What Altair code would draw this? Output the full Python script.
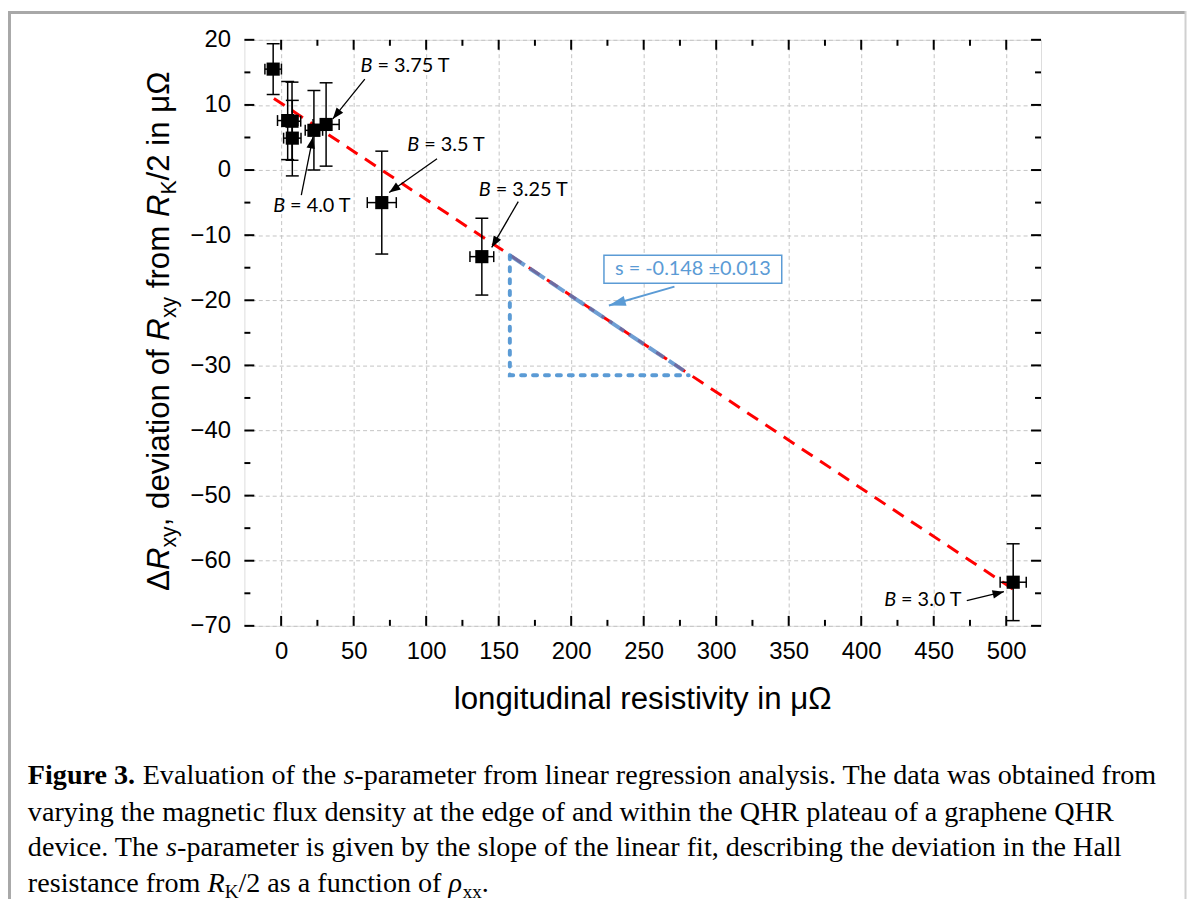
import math
import altair as alt
import pandas as pd

# ---------------- data ----------------
rho_xx  = [-5.5, 4.5, 7.5, 7.7, 22.6, 31.0, 69.4, 138.4, 504.8]     # longitudinal resistivity (µΩ)
d_rxy   = [15.5, 7.6, 7.5, 4.9, 6.1, 7.0, -5.0, -13.3, -63.3]        # ΔRxy (µΩ)
rho_err = [5.7, 7.0, 6.0, 6.0, 6.0, 9.0, 10.0, 8.2, 9.0]
rxy_err = [3.9, 6.0, 6.0, 5.8, 6.1, 6.4, 7.9, 5.9, 5.9]

fit_x = [-5.0, 505.0]
fit_y = [11.0, -64.4]

tri_x = [157.7, 157.7, 281.0]
tri_y = [-13.1, -31.5, -31.5]
hyp_x = [157.7, 281.0]
hyp_y = [-13.1, -31.3]

slope_text = "s = -0.148 ±0.013"
box_x = [222.6, 345.2]
box_y = [-13.1, -17.4]
blue_arrow_x = [271.2, 226.0]
blue_arrow_y = [-17.9, -20.8]

field_labels = ["= 3.75 T", "= 4.0 T", "= 3.5 T", "= 3.25 T", "= 3.0 T"]
label_x = [54.8, -5.5, 87.0, 136.3, 415.8]
label_y = [16.0, -5.5, 3.8, -3.0, -66.1]
arrow_x1 = [57.7, 13.9, 107.5, 163.5, 472.8]
arrow_y1 = [13.95, -3.84, 1.74, -4.86, -66.13]
arrow_x2 = [35.6, 21.9, 74.5, 145.2, 498.4]
arrow_y2 = [7.85, 5.05, -3.44, -11.88, -64.76]

x_major = [0, 50, 100, 150, 200, 250, 300, 350, 400, 450, 500]
x_minor = [25, 75, 125, 175, 225, 275, 325, 375, 425, 475]
y_major = [-70, -60, -50, -40, -30, -20, -10, 0, 10, 20]
y_minor = [-65, -55, -45, -35, -25, -15, -5, 5, 15]

x_title = "longitudinal resistivity in μΩ"
y_title_parts = [("Δ", "r"), ("R", "i"), ("xy", "sub"), (", deviation of ", "r"), ("R", "i"),
                 ("xy", "sub"), (" from ", "r"), ("R", "i"), ("K", "sub"), ("/2 in μΩ", "r")]
caption_lines = [
    [("Figure 3.", "b"), (" Evaluation of the ", "r"), ("s", "i"),
     ("-parameter from linear regression analysis. The data was obtained from", "r")],
    [("varying the magnetic flux density at the edge of and within the QHR plateau of a graphene QHR", "r")],
    [("device. The ", "r"), ("s", "i"),
     ("-parameter is given by the slope of the linear fit, describing the deviation in the Hall", "r")],
    [("resistance from ", "r"), ("R", "i"), ("K", "sub"), ("/2 as a function of ", "r"),
     ("ρ", "i"), ("xx", "sub"), (".", "r")],
]

# ---------------- layout ----------------
W, H = 802, 590
XD = [-25.34, 523.97]
YD = [-70, 20]
pxx = W / (XD[1] - XD[0])
pxy = H / (YD[1] - YD[0])
BLUE = "#5b9bd5"

# approximate advance widths (em) for Arial-metric and Times-metric fonts
ARIAL = {'Δ': .668, 'R': .722, 'x': .5, 'y': .5, ',': .278, ' ': .278, 'd': .556, 'e': .556, 'v': .5,
         'i': .222, 'a': .556, 't': .278, 'o': .556, 'n': .556, 'f': .278, 'r': .333, 'm': .833,
         'K': .667, '/': .278, '2': .556, 'μ': .576, 'Ω': .768, 'l': .222, 'g': .556, 'u': .556, 's': .5}
TIMES = {' ': .25, ',': .25, '-': .333, '.': .25, '/': .278, ';': .278, ':': .278, '=': .564,
         'A': .722, 'B': .667, 'C': .667, 'D': .722, 'E': .611, 'F': .556, 'G': .722, 'H': .722,
         'I': .333, 'J': .389, 'K': .722, 'L': .611, 'M': .889, 'N': .722, 'O': .722, 'P': .556,
         'Q': .722, 'R': .667, 'S': .556, 'T': .611, 'U': .722, 'V': .722, 'W': .944, 'X': .722,
         'Y': .722, 'Z': .611, 'a': .444, 'b': .5, 'c': .444, 'd': .5, 'e': .444, 'f': .333, 'g': .5,
         'h': .5, 'i': .278, 'j': .278, 'k': .5, 'l': .278, 'm': .778, 'n': .5, 'o': .5, 'p': .5,
         'q': .5, 'r': .333, 's': .389, 't': .278, 'u': .5, 'v': .5, 'w': .722, 'x': .5, 'y': .5,
         'z': .444}
for _d in "0123456789":
    TIMES[_d] = .5
TIMES_B = {'F': .611, 'i': .278, 'g': .5, 'u': .556, 'r': .444, 'e': .444, ' ': .25, '3': .5, '.': .25}
TIMES_I = {'s': .389, 'R': .611, 'ρ': .5}
SUB = 0.68


def width_em(text, table):
    return sum(table.get(c, 0.5) for c in text)


def piece_w(text, style, tables):
    reg, bold, ital = tables
    if style == "b":
        return width_em(text, bold)
    if style == "i":
        return width_em(text, ital)
    if style == "sub":
        return width_em(text, reg) * SUB
    return width_em(text, reg)


one = pd.DataFrame({"k": [0]})


def text_piece(txt, x, y, size, font, style="r", angle=0, baseline="alphabetic", align="left", color="black"):
    kw = dict(font=font, fontSize=size, align=align, baseline=baseline, color=color)
    if style == "b":
        kw["fontWeight"] = "bold"
    if style == "i":
        kw["fontStyle"] = "italic"
    if angle:
        kw["angle"] = angle
    return alt.Chart(one).mark_text(**kw).encode(
        x=alt.value(x), y=alt.value(y), text=alt.value(txt))


xs = alt.Scale(domain=XD, nice=False, zero=False)
ys = alt.Scale(domain=YD, nice=False, zero=False)
common_axis = dict(grid=True, gridDash=[4, 3], gridColor="#c4c4c4", gridWidth=1, domain=False,
                   ticks=False, labelFont="Liberation Sans", labelFontSize=24, labelColor="black",
                   labelPadding=14, title=None, labelFlush=False, labelOverlap=False)
xaxis = alt.Axis(values=x_major, **common_axis)
yaxis = alt.Axis(values=y_major, **common_axis)


def X(f):
    return alt.X(f, type="quantitative", scale=xs, axis=xaxis)


def Y(f):
    return alt.Y(f, type="quantitative", scale=ys, axis=yaxis)


df = pd.DataFrame({"x": rho_xx, "y": d_rxy, "xe": rho_err, "ye": rxy_err})
df["xlo"] = df.x - df.xe
df["xhi"] = df.x + df.xe
df["ylo"] = df.y - df.ye
df["yhi"] = df.y + df.ye

layers = []

# fit line
layers.append(alt.Chart(pd.DataFrame({"x": fit_x, "y": fit_y})).mark_line(
    color="#ff0000", strokeWidth=3, strokeDash=[13, 9]).encode(x=X("x"), y=Y("y")))
# slope triangle
layers.append(alt.Chart(pd.DataFrame({"x": tri_x, "y": tri_y, "i": [0, 1, 2]})).mark_line(
    color=BLUE, strokeWidth=4, strokeDash=[4, 8], strokeCap="round").encode(
    x=X("x"), y=Y("y"), order="i:Q"))
layers.append(alt.Chart(pd.DataFrame({"x": hyp_x, "y": hyp_y})).mark_line(
    color="#4a86c8", strokeWidth=4, strokeDash=[18, 6], opacity=0.8).encode(x=X("x"), y=Y("y")))

# error bars
eb = alt.Chart(df)
layers.append(eb.mark_rule(color="black", strokeWidth=1.5).encode(x=X("x"), y=Y("ylo"), y2="yhi"))
layers.append(eb.mark_rule(color="black", strokeWidth=1.5).encode(y=Y("y"), x=X("xlo"), x2="xhi"))
for f in ["ylo", "yhi"]:
    layers.append(eb.mark_tick(orient="horizontal", size=13, thickness=1.5, color="black",
                               opacity=1).encode(x=X("x"), y=Y(f)))
for f in ["xlo", "xhi"]:
    layers.append(eb.mark_tick(orient="vertical", size=11, thickness=1.5, color="black",
                               opacity=1).encode(x=X(f), y=Y("y")))
# data squares
layers.append(eb.mark_square(size=175, color="black", opacity=1, filled=True).encode(x=X("x"), y=Y("y")))


def head_angle(x1, y1, x2, y2):
    dxp = (x2 - x1) * pxx
    dyp = -(y2 - y1) * pxy
    return math.degrees(math.atan2(dxp, -dyp)) % 360


adf = pd.DataFrame({"x1": arrow_x1, "y1": arrow_y1, "x2": arrow_x2, "y2": arrow_y2})
adf["ang"] = [head_angle(a, b, c, d) for a, b, c, d in zip(arrow_x1, arrow_y1, arrow_x2, arrow_y2)]
layers.append(alt.Chart(adf).mark_rule(color="black", strokeWidth=1.3).encode(
    x=X("x1"), y=Y("y1"), x2="x2", y2="y2"))
layers.append(alt.Chart(adf).mark_point(shape="M0,0L0.75,2L-0.75,2Z", filled=True, size=130,
                                        color="black", opacity=1, strokeWidth=0).encode(
    x=X("x2"), y=Y("y2"), angle=alt.Angle("ang:Q", scale=None)))

ldf = pd.DataFrame({"x": label_x, "y": label_y, "t": field_labels})
layers.append(alt.Chart(ldf).mark_text(font="Lato", fontSize=20, fontStyle="italic", align="left",
                                       baseline="middle", color="black").encode(
    x=X("x"), y=Y("y"), text=alt.value("B")))
layers.append(alt.Chart(ldf).mark_text(font="Lato", fontSize=20, align="left", dx=17,
                                       baseline="middle", color="black").encode(
    x=X("x"), y=Y("y"), text="t:N"))

# slope box + arrow
bdf = pd.DataFrame({"x1": [box_x[0]], "x2": [box_x[1]], "y1": [box_y[0]], "y2": [box_y[1]],
                    "xc": [(box_x[0] + box_x[1]) / 2], "yc": [(box_y[0] + box_y[1]) / 2],
                    "t": [slope_text]})
layers.append(alt.Chart(bdf).mark_rect(fill="white", stroke=BLUE, strokeWidth=1.5).encode(
    x=X("x1"), x2="x2", y=Y("y1"), y2="y2"))
layers.append(alt.Chart(bdf).mark_text(font="Lato", fontSize=20, color=BLUE, align="center",
                                       baseline="middle").encode(x=X("xc"), y=Y("yc"), text="t:N"))
badf = pd.DataFrame({"x1": [blue_arrow_x[0]], "y1": [blue_arrow_y[0]], "x2": [blue_arrow_x[1]],
                     "y2": [blue_arrow_y[1]]})
badf["ang"] = [head_angle(blue_arrow_x[0], blue_arrow_y[0], blue_arrow_x[1], blue_arrow_y[1])]
layers.append(alt.Chart(badf).mark_rule(color=BLUE, strokeWidth=2).encode(
    x=X("x1"), y=Y("y1"), x2="x2", y2="y2"))
layers.append(alt.Chart(badf).mark_point(shape="M0,0L0.6,2L-0.6,2Z", filled=True, size=289,
                                         color=BLUE, opacity=1, strokeWidth=0).encode(
    x=X("x2"), y=Y("y2"), angle=alt.Angle("ang:Q", scale=None)))

# inward ticks on all four sides
for vals, ln in [(x_major, 10), (x_minor, 6)]:
    tdf = pd.DataFrame({"v": vals})
    layers.append(alt.Chart(tdf).mark_rule(color="black", strokeWidth=2).encode(
        x=X("v"), y=alt.value(H), y2=alt.value(H - ln)))
    layers.append(alt.Chart(tdf).mark_rule(color="black", strokeWidth=2).encode(
        x=X("v"), y=alt.value(0), y2=alt.value(ln)))
for vals, ln in [(y_major, 10), (y_minor, 6)]:
    tdf = pd.DataFrame({"v": vals})
    layers.append(alt.Chart(tdf).mark_rule(color="black", strokeWidth=2).encode(
        y=Y("v"), x=alt.value(0), x2=alt.value(ln)))
    layers.append(alt.Chart(tdf).mark_rule(color="black", strokeWidth=2).encode(
        y=Y("v"), x=alt.value(W), x2=alt.value(W - ln)))


def split_spaces(t):
    lead = len(t) - len(t.lstrip(" "))
    return lead, t.strip(" ")


# axis titles (Arial metrics)
ar = (ARIAL, ARIAL, ARIAL)
F = 381.0 / width_em(x_title, ARIAL)
layers.append(text_piece(x_title, W / 2, 674, F, "Liberation Sans", align="center"))
L = sum(piece_w(t, s, ar) * F for t, s in y_title_parts)
ypos = 293 + L / 2
base_x = -76
for t, s in y_title_parts:
    size = F * SUB if s == "sub" else F
    xx = base_x + (0.22 * F if s == "sub" else 0)
    lead, core = split_spaces(t)
    layers.append(text_piece(core, xx, ypos - lead * ARIAL[" "] * size, size, "Liberation Sans",
                             style=("r" if s == "sub" else s), angle=270))
    ypos -= piece_w(t, s, ar) * F

# caption (Times metrics)
tm = (TIMES, TIMES_B, TIMES_I)
S = 1137.0 / sum(piece_w(t, s, tm) for t, s in caption_lines[0])
cap_base = [749, 786, 822, 858]
for line, yb in zip(caption_lines, cap_base):
    xp = -218
    for t, s in line:
        size = S * SUB if s == "sub" else S
        yy = yb + (0.2 * S if s == "sub" else 0)
        lead, core = split_spaces(t)
        sp = (TIMES_B[" "] if s == "b" else TIMES[" "]) * size
        layers.append(text_piece(core, xp + lead * sp, yy, size, "Liberation Serif",
                                 style=("r" if s == "sub" else s)))
        xp += piece_w(t, s, tm) * S

# outer grey frame
GREY = "#a8a8a8"
layers.append(alt.Chart(one).mark_rule(color=GREY, strokeWidth=3).encode(
    x=alt.value(-236.5), y=alt.value(-29), y2=alt.value(H + 275)))
layers.append(alt.Chart(one).mark_rule(color=GREY, strokeWidth=3).encode(
    x=alt.value(-238), x2=alt.value(948), y=alt.value(-27.5)))
layers.append(alt.Chart(one).mark_rule(color="#d0d0d0", strokeWidth=2).encode(
    x=alt.value(947.5), y=alt.value(-29), y2=alt.value(H + 275)))

chart = alt.layer(*layers).properties(
    width=W, height=H,
    padding={"left": 238, "top": 29, "right": 147, "bottom": 275},
    autosize=alt.AutoSizeParams(type="none"),
).configure_view(stroke="black", strokeWidth=2).configure(background="white")

chart.save("out.html", embed_options={"renderer": "svg", "actions": False})
